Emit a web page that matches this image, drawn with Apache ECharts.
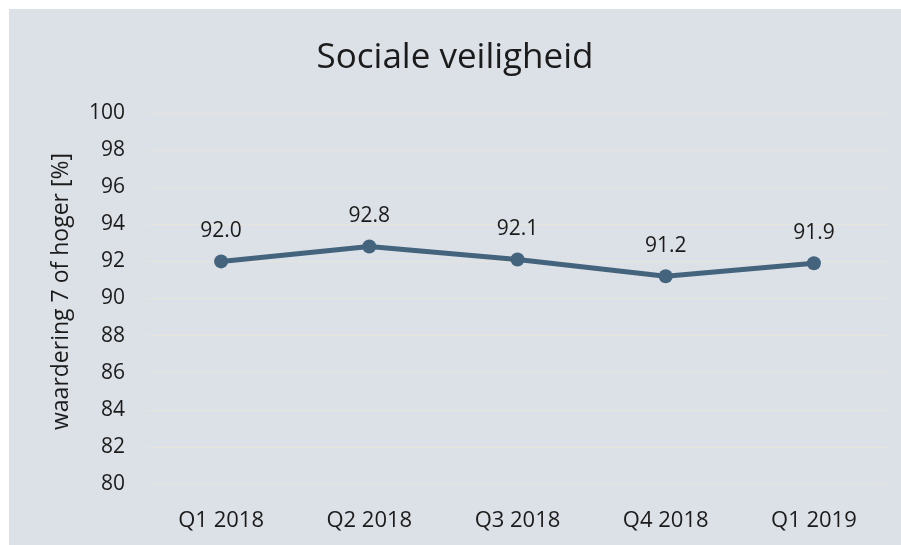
<!DOCTYPE html>
<html>
<head>
<meta charset="utf-8">
<script src="https://cdn.jsdelivr.net/npm/echarts@6/dist/echarts.min.js"></script>
<style>
  html, body { margin: 0; padding: 0; background: #dce0e7; overflow: hidden; }
  #chart { position: absolute; left: 9px; top: 9px; width: 892px; height: 536px; }
  #frame {
    position: fixed; left: 0; top: 0; right: 0; bottom: 0;
    border-top: 9px solid #ffffff; border-left: 9px solid #ffffff;
    box-sizing: border-box; pointer-events: none; z-index: 10;
  }
</style>
</head>
<body>
<div id="chart"></div>
<div id="frame"></div>
<script>
const categories = ['Q1 2018', 'Q2 2018', 'Q3 2018', 'Q4 2018', 'Q1 2019'];
const values = [92.0, 92.8, 92.1, 91.2, 91.9];
const yMin = 80;
const yMax = 100;
const yStep = 2;

const font = '"Open Sans", "Noto Sans", sans-serif';
const textColor = '#1b1b1b';

const chart = echarts.init(document.getElementById('chart'));
chart.setOption({
  backgroundColor: '#dce0e7',
  animation: false,
  title: {
    text: 'Sociale veiligheid',
    left: 'center',
    top: 27,
    textStyle: { fontFamily: font, fontSize: 35, fontWeight: 'normal', color: textColor }
  },
  grid: { left: 138, right: 13, top: 104, bottom: 61 },
  xAxis: {
    type: 'category',
    data: categories,
    boundaryGap: true,
    axisLine: { show: false },
    axisTick: { show: false },
    axisLabel: { fontFamily: font, fontSize: 22, color: textColor, margin: 26 }
  },
  yAxis: {
    type: 'value',
    min: yMin,
    max: yMax,
    interval: yStep,
    name: 'waardering 7 of hoger [%]',
    nameLocation: 'middle',
    nameGap: 74,
    nameTextStyle: { fontFamily: font, fontSize: 23, color: textColor, padding: [0, 0, 0, 14] },
    axisLine: { show: false },
    axisTick: { show: false },
    axisLabel: { fontFamily: font, fontSize: 21, color: textColor, margin: 22 },
    splitLine: { lineStyle: { color: '#e6e5dc', width: 1 } }
  },
  series: [{
    type: 'line',
    data: values,
    symbol: 'circle',
    symbolSize: 14,
    lineStyle: { color: '#44647e', width: 5 },
    itemStyle: { color: '#44647e' },
    label: {
      show: true,
      position: 'top',
      distance: 13,
      formatter: p => p.value.toFixed(1),
      fontFamily: font,
      fontSize: 21,
      color: textColor
    }
  }]
});
</script>
</body>
</html>
